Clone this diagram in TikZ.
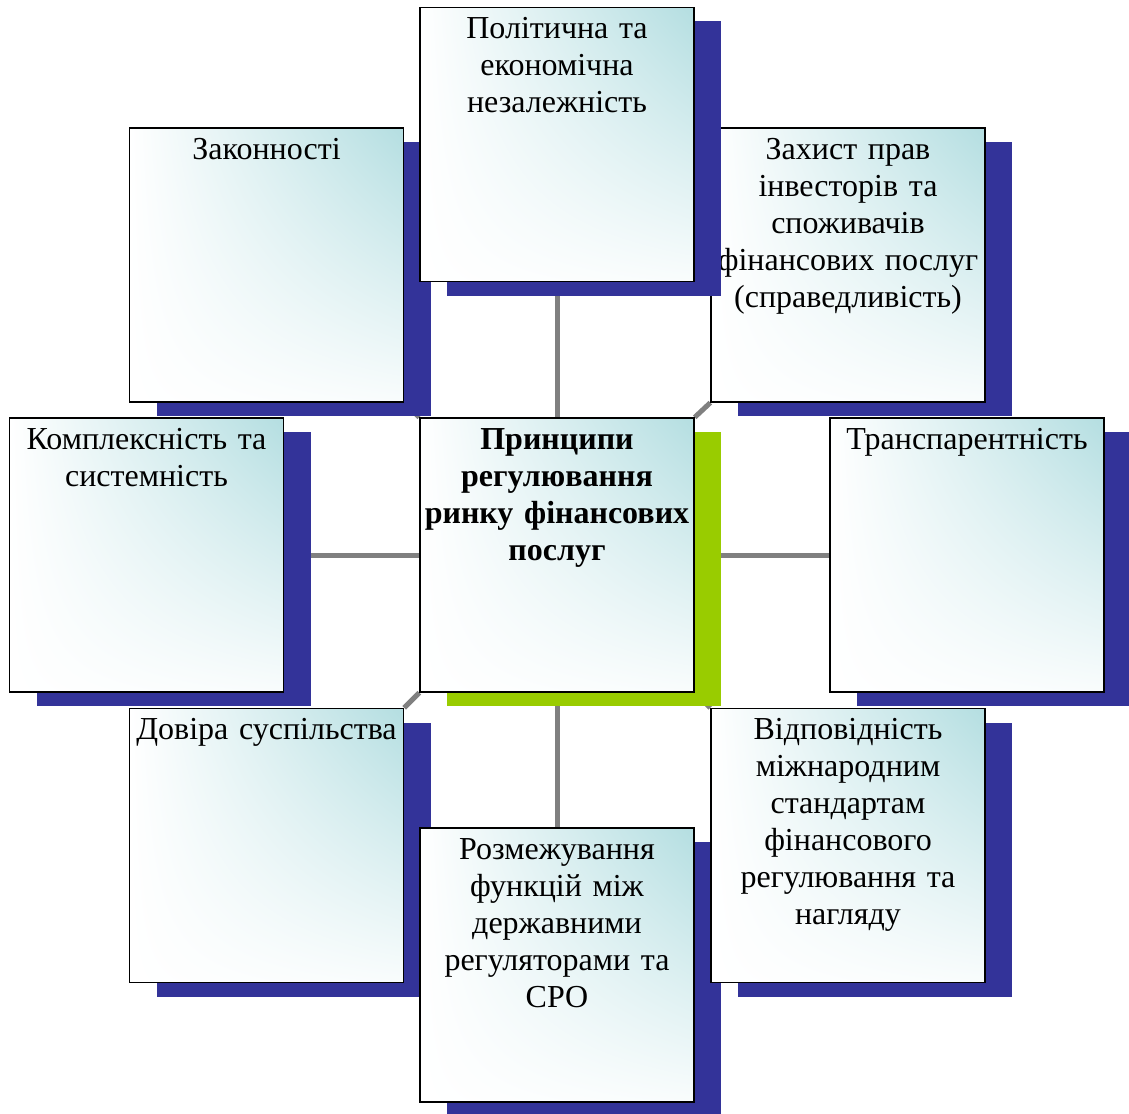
\documentclass[tikz,border=0pt]{standalone}
\usepackage{fontspec}
\setmainfont{Liberation Serif}
\usetikzlibrary{shadows,shadings,backgrounds}
\definecolor{sblue}{RGB}{51,51,153}
\definecolor{sgreen}{RGB}{153,204,0}
\definecolor{tealc}{RGB}{180,222,225}
\definecolor{lgray}{RGB}{128,128,128}
\tikzset{
  box/.style={draw=black, line width=1.4pt, minimum width=274pt, minimum height=274pt,
    inner sep=0pt, shade, upper left=white, upper right=tealc,
    lower left=white, lower right=tealc!8!white,
    general shadow={fill=sblue, shadow xshift=27pt, shadow yshift=-14pt}},
  cbox/.style={box, general shadow={fill=sgreen, shadow xshift=27pt, shadow yshift=-14pt}},
  txt/.style={anchor=north, inner sep=0pt, text width=300pt, align=center,
    font=\fontsize{32}{37}\selectfont},
  conn/.style={draw=lgray, line width=5pt},
}
\begin{document}
\begin{tikzpicture}[x=1pt, y=-1pt]
\useasboundingbox (0,0) rectangle (1129,1113);

\node[box] (zak) at (266.5,265) {};
\node[txt] (zakt) at ([yshift=-6pt]zak.north) {\strut Законності};

\node[box] (zah) at (848,265) {};
\node[txt] (zaht) at ([yshift=-6pt]zah.north) {\strut Захист прав\\інвесторів та\\споживачів\\фінансових послуг\\(справедливість)};

\node[box] (tp) at (557,144.5) {};
\node[txt] (tpt) at ([yshift=-6pt]tp.north) {\strut Політична та\\економічна\\незалежність};

\node[box] (kom) at (146.5,555) {};
\node[txt] (komt) at ([yshift=-6pt]kom.north) {\strut Комплексність та\\системність};

\node[cbox] (c) at (557,555) {};
\node[txt, font=\fontsize{32}{37}\selectfont\bfseries] (ct) at ([yshift=-6pt]c.north) {\strut Принципи\\регулювання\\ринку фінансових\\послуг};

\node[box] (tr) at (967,555) {};
\node[txt] (trt) at ([yshift=-6pt]tr.north) {\strut Транспарентність};

\node[box] (dov) at (266.5,845.5) {};
\node[txt] (dovt) at ([yshift=-6pt]dov.north) {\strut Довіра суспільства};

\node[box] (roz) at (557,965) {};
\node[txt] (rozt) at ([yshift=-6pt]roz.north) {\strut Розмежування\\функцій між\\державними\\регуляторами та\\СРО};

\node[box] (vid) at (848,845.5) {};
\node[txt] (vidt) at ([yshift=-6pt]vid.north) {\strut Відповідність\\міжнародним\\стандартам\\фінансового\\регулювання та\\нагляду};

\begin{scope}[on background layer]
\fill[white] (0,0) rectangle (1129,1113);
\draw[conn] (tp.south) -- (c.north);
\draw[conn] (roz.north) -- (c.south);
\draw[conn] (kom.east) -- (c.west);
\draw[conn] (tr.west) -- (c.east);
\draw[conn] (zak.south east) -- (c.north west);
\draw[conn] (zah.south west) -- (c.north east);
\draw[conn] (dov.north east) -- (c.south west);
\draw[conn] (vid.north west) -- (c.south east);
\end{scope}
\end{tikzpicture}
\end{document}
